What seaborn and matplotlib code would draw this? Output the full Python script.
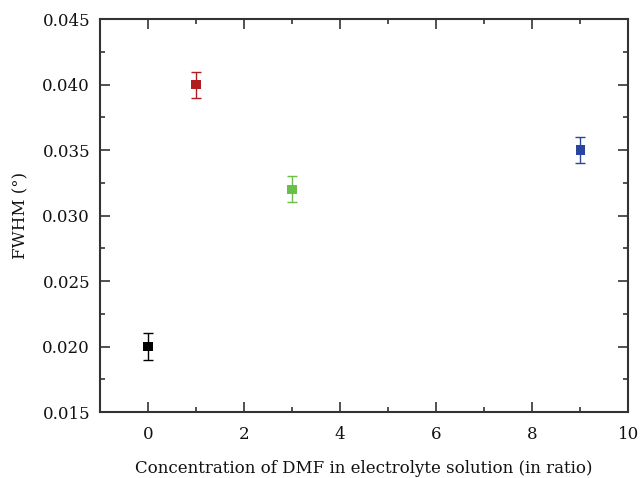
import matplotlib
matplotlib.use("Agg")
import matplotlib.pyplot as plt
import seaborn as sns
import pandas as pd
from matplotlib.ticker import MultipleLocator

conc = [0, 1, 3, 9]
fwhm = [0.020, 0.040, 0.032, 0.035]
err = [0.001, 0.001, 0.001, 0.001]
labels = ["0", "1", "3", "9"]
colors = ["#000000", "#b01c20", "#6abf4b", "#2a45a0"]

df = pd.DataFrame({"conc": conc, "fwhm": fwhm, "err": err, "label": labels})

sns.set_style("ticks")
plt.rcParams["font.family"] = ["DejaVu Serif"]
plt.rcParams["text.color"] = "#111111"
plt.rcParams["axes.labelcolor"] = "#111111"
plt.rcParams["xtick.labelcolor"] = "#111111"
plt.rcParams["ytick.labelcolor"] = "#111111"

fig = plt.figure(figsize=(6.4, 4.78), dpi=100)
ax = fig.add_axes([0.156, 0.138, 0.826, 0.822])

for x, y, e, c in zip(df["conc"], df["fwhm"], df["err"], colors):
    ax.errorbar(x, y, yerr=e, fmt="none", ecolor=c, elinewidth=1.0,
                capsize=3.3, capthick=1.0, zorder=2)
sns.scatterplot(data=df, x="conc", y="fwhm", hue="label", palette=colors,
                marker="s", s=48, edgecolor="none", legend=False, ax=ax, zorder=3)

ax.set_xlim(-1, 10)
ax.set_ylim(0.015, 0.045)
ax.xaxis.set_major_locator(MultipleLocator(2))
ax.xaxis.set_minor_locator(MultipleLocator(1))
ax.yaxis.set_major_locator(MultipleLocator(0.005))
ax.yaxis.set_minor_locator(MultipleLocator(0.0025))
ax.yaxis.set_major_formatter(matplotlib.ticker.FormatStrFormatter("%.3f"))
ax.tick_params(which="both", direction="in", top=True, right=True,
               labelsize=12, color="#333333", width=1.2)
ax.tick_params(axis="x", which="both", pad=10)
ax.tick_params(axis="y", which="both", pad=7)
ax.tick_params(which="major", length=7.5)
ax.tick_params(which="minor", length=3.8)
for sp in ax.spines.values():
    sp.set_linewidth(1.5)
    sp.set_color("#333333")

ax.set_xlabel("Concentration of DMF in electrolyte solution (in ratio)", fontsize=12, labelpad=12)
ax.set_ylabel("FWHM (°)", fontsize=12, labelpad=9)

fig.savefig("out.png", dpi=100)
